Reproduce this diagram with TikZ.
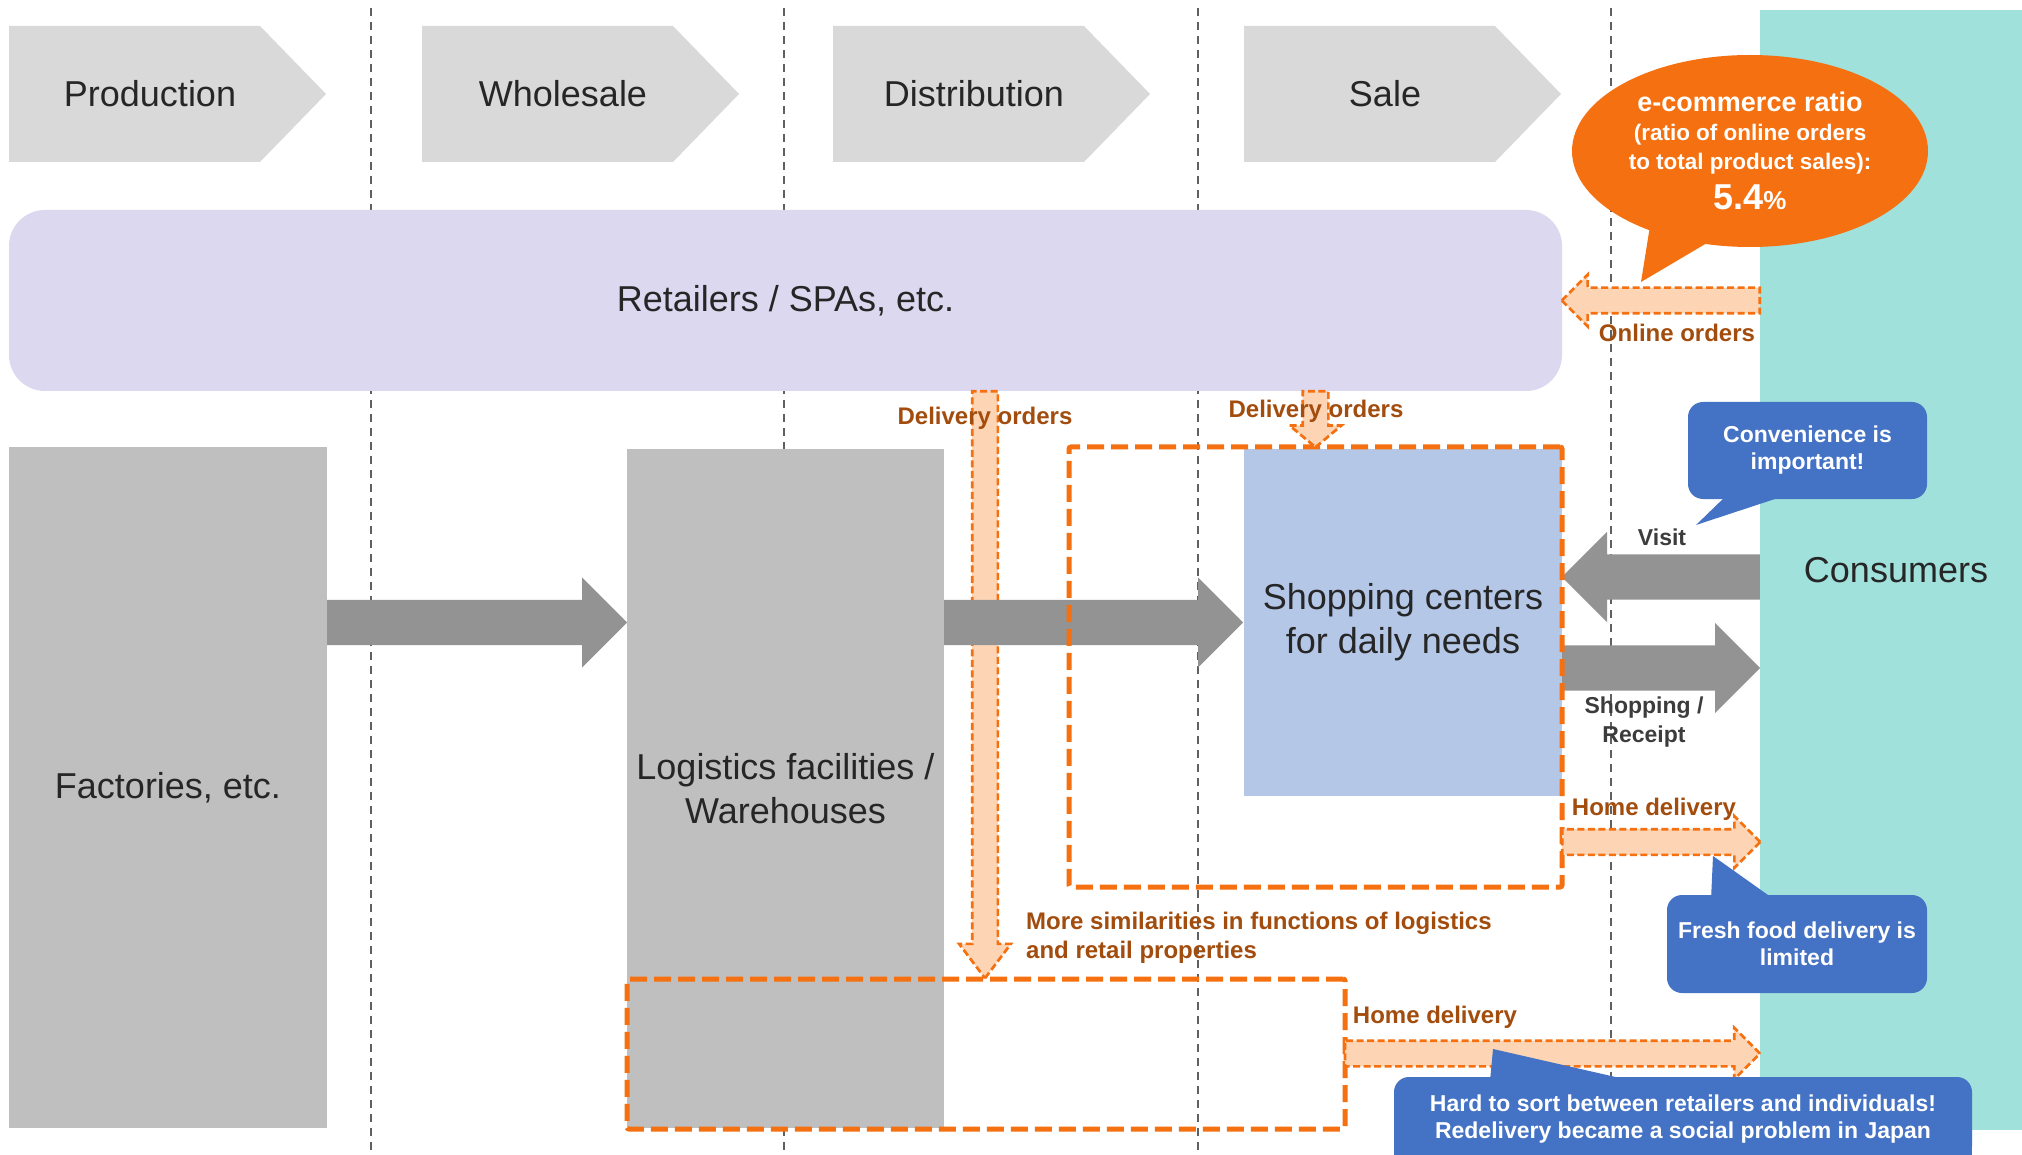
\documentclass[tikz,border=0pt]{standalone}
\usepackage{fontspec}
\setmainfont{Liberation Sans}
\usetikzlibrary{shapes.geometric,shapes.arrows}
\definecolor{stagegray}{HTML}{D9D9D9}
\definecolor{boxgray}{HTML}{BFBFBF}
\definecolor{arrowgray}{HTML}{939393}
\definecolor{retaillilac}{HTML}{DCD8EF}
\definecolor{shopblue}{HTML}{B4C7E7}
\definecolor{consteal}{HTML}{A0E1DC}
\definecolor{flowOrange}{HTML}{F47010}
\definecolor{flowPeach}{HTML}{FDD5B4}
\definecolor{labelbrown}{HTML}{A24C0E}
\definecolor{noteblue}{HTML}{4472C4}
\definecolor{inkgray}{HTML}{262626}
\definecolor{linegray}{HTML}{606060}

\begin{document}
\begin{tikzpicture}[x=1pt,y=-1pt,
    bigtext/.style={text=inkgray,font=\fontsize{36}{44}\selectfont,align=center},
    graybox/.style={bigtext,fill=boxgray,inner sep=0pt},
    grayarrow/.style={single arrow,fill=arrowgray,inner xsep=0pt,inner ysep=22.5pt,single arrow head extend=22.5pt,single arrow tip angle=90,outer sep=0pt},
    flowarrow/.style={single arrow,fill=flowPeach,draw=flowOrange,line width=2.7pt,dash pattern=on 7pt off 3.5pt,inner xsep=0pt,inner ysep=11.5pt,single arrow head extend=13pt,single arrow tip angle=90,outer sep=0pt},
    downflow/.style={flowarrow,shape border rotate=270,inner xsep=11.5pt,inner ysep=0pt},
    frame/.style={draw=flowOrange,line width=5pt,dash pattern=on 17pt off 7pt,rounded corners=2pt,inner sep=0pt,outer sep=0pt},
    sepline/.style={linegray,line width=1.3pt,dash pattern=on 8pt off 6pt},
    flowlabel/.style={text=labelbrown,font=\bfseries\fontsize{24}{29}\selectfont,inner sep=0pt},
    darklabel/.style={text=inkgray!90,font=\bfseries\fontsize{23}{29}\selectfont,inner sep=0pt},
    note/.style={fill=noteblue,rounded corners=15pt,text=white,font=\bfseries\fontsize{23}{27}\selectfont,align=center,inner sep=0pt}]
  \useasboundingbox[fill=white] (0,0) rectangle (2022,1155);
  \clip (0,0) rectangle (2022,1155);
  \foreach \x in {371,784,1198,1611}
    \draw[sepline] (\x,8) -- (\x,1155);
  \node[bigtext,fill=consteal,minimum width=262pt,minimum height=1120pt,inner sep=0pt] (cons) at (1891,570) {\hspace{10pt}Consumers};
  \foreach \x/\nm/\txt in {9/prod/Production,422/whole/Wholesale,833/dist/Distribution,1244/sale/Sale}{
    \fill[stagegray] (\x,26) -- ++(251,0) -- ++(66,68) -- ++(-66,68) -- ++(-251,0) -- cycle;
    \node[bigtext] (\nm) at (\x+141,94) {\txt};
  }
  \node[bigtext,fill=retaillilac,rounded corners=36pt,minimum width=1553pt,minimum height=181pt] (retail) at (785.5,300.5) {Retailers / SPAs, etc.};
  \node[graybox,minimum width=318pt,minimum height=681pt] (fact) at (168,787.5) {Factories, etc.};
  \node[graybox,minimum width=317pt,minimum height=679pt] (logi) at (785.5,788.5) {Logistics facilities /\\Warehouses};
  \node[bigtext,fill=shopblue,minimum width=318pt,minimum height=347pt,inner sep=0pt] (shop) at (1403,622.5) {Shopping centers\\for daily needs};
  \coordinate (dordcol) at (985,0);
  \coordinate (visitrow) at (0,577);
  \coordinate (buyrow) at (0,668);
  \coordinate (homerow1) at (0,842);
  \coordinate (homerow2) at (0,1053.5);
  \node[downflow,single arrow tip angle=74,minimum height=587pt,anchor=tail] (dord1) at (dordcol |- retail.south) {};
  \node[grayarrow,minimum height=300pt,anchor=tail] (make) at (fact.east |- shop.center) {};
  \node[grayarrow,minimum height=299pt,anchor=tail] (ship) at (logi.east |- shop.center) {};
  \node[grayarrow,shape border rotate=180,minimum height=198pt,anchor=tail] (visit) at (cons.west |- visitrow) {};
  \node[grayarrow,minimum height=198pt,anchor=tail] (buy) at (shop.east |- buyrow) {};
  \node[frame,minimum width=493pt,minimum height=440pt] (shopframe) at (1315.5,667) {};
  \node[frame,minimum width=718pt,minimum height=150pt] (whframe) at (986,1054) {};
  \node[flowarrow,shape border rotate=180,minimum height=198pt,anchor=tail] (online) at (cons.west |- retail.east) {};
  \node[downflow,single arrow tip angle=100,minimum height=56pt,anchor=tail] (dord2) at (shopframe.north |- retail.south) {};
  \node[flowarrow,minimum height=198pt,anchor=tail] (home1) at (shop.east |- homerow1) {};
  \node[flowarrow,minimum height=415pt,anchor=tail] (home2) at (whframe.east |- homerow2) {};
  \node[flowlabel] (dordl1) at (985,418) {Delivery orders};
  \node[flowlabel] (dordl2) at (1316,411) {Delivery orders};
  \node[flowlabel] (onlinel) at (1677,333) {Online orders};
  \node[flowlabel] (homel1) at (1654,809) {Home delivery};
  \node[flowlabel] (homel2) at (1435,1017) {Home delivery};
  \node[flowlabel,align=left,anchor=west] (similar) at (1026,937.5) {More similarities in functions of logistics\\and retail properties};
  \node[darklabel] (visitl) at (1662,537) {Visit};
  \node[darklabel,align=center] (buyl) at (1644,722) {Shopping /\\Receipt};
  \node[ellipse,fill=flowOrange,minimum width=356pt,minimum height=192pt,inner sep=0pt,text=white,align=center,font=\bfseries\fontsize{22.5}{29}\selectfont] (ecratio) at (1750,151)
    {{\fontsize{27}{29}\selectfont e-commerce ratio}\\(ratio of online orders\\to total product sales):\\[9pt]{\fontsize{36}{36}\selectfont 5.4}{\fontsize{26}{26}\selectfont\%}};
  \fill[flowOrange] (1650,226) -- (1712,240) -- (1641,282) -- cycle;
  \node[note,minimum width=239pt,minimum height=97pt] (conv) at (1807.5,450.5) {Convenience is\\important!};
  \fill[noteblue] (1727,495) -- (1787,495) -- (1696,525) -- cycle;
  \node[note,minimum width=260pt,minimum height=98pt] (fresh) at (1797,944) {Fresh food delivery is\\limited};
  \fill[noteblue] (1711,900) -- (1775,900) -- (1713,856) -- cycle;
  \fill[noteblue] (1394,1119) rectangle (1972,1160);
  \node[note,minimum width=578pt,minimum height=84pt] (hard) at (1683,1119) {Hard to sort between retailers and individuals!\\Redelivery became a social problem in Japan};
  \fill[noteblue] (1490,1081) -- (1633,1081) -- (1493,1049) -- cycle;
\end{tikzpicture}
\end{document}
